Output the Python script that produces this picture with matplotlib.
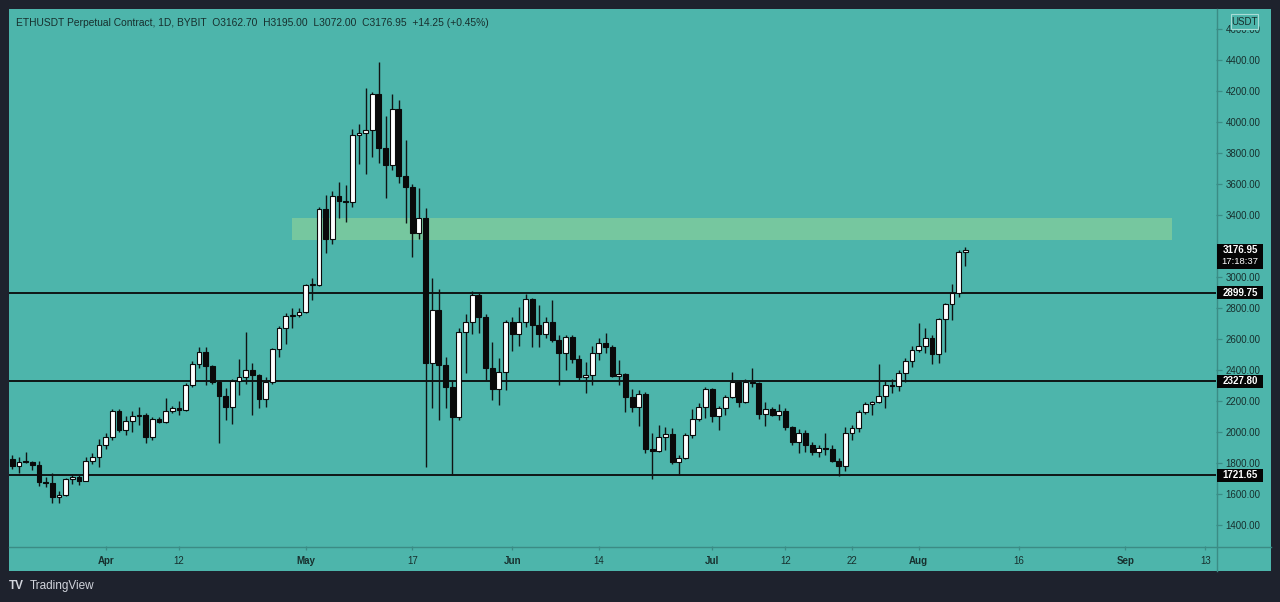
import matplotlib
matplotlib.use('Agg')
import matplotlib.pyplot as plt
import matplotlib.dates as mdates
from matplotlib.patches import Rectangle
from matplotlib.lines import Line2D
import pandas as pd
import numpy as np

# ---------------- data (daily ETHUSDT, from 2021-03-18) ----------------
start_date = '2021-03-18'
opens = [1824, 1781, 1809, 1806, 1785, 1680, 1669, 1579, 1592, 1699,
         1712, 1686, 1815, 1841, 1916, 1966, 2138, 2013, 2073, 2103,
         2110, 1966, 2082, 2067, 2133, 2153, 2142, 2301, 2437, 2514,
         2426, 2320, 2234, 2159, 2329, 2357, 2400, 2366, 2215, 2320,
         2533, 2669, 2748, 2758, 2776, 2946, 2950, 3436, 3243, 3525,
         3492, 3482, 3916, 3931, 3951, 4178, 3830, 3723, 4082, 3654,
         3583, 3286, 3379, 2443, 2790, 2432, 2292, 2099, 2647, 2707,
         2884, 2744, 2411, 2275, 2389, 2707, 2632, 2707, 2856, 2690,
         2630, 2712, 2593, 2507, 2611, 2469, 2353, 2370, 2507, 2576,
         2546, 2363, 2372, 2228, 2159, 2243, 1888, 1880, 1966, 1987,
         1809, 1830, 1979, 2084, 2163, 2275, 2105, 2153, 2224, 2320,
         2196, 2320, 2314, 2116, 2146, 2110, 2138, 2030, 1938, 1991,
         1916, 1873, 1899, 1893, 1815, 1781, 1996, 2024, 2127, 2178,
         2191, 2232, 2303, 2299, 2383, 2460, 2529, 2555, 2609, 2503,
         2727, 2826, 2895, 3162.70]
highs = [1851, 1841, 1869, 1815, 1812, 1712, 1738, 1617, 1701, 1729,
         1725, 1841, 1862, 1953, 1992, 2146, 2146, 2103, 2133, 2159,
         2121, 2095, 2095, 2217, 2168, 2200, 2314, 2455, 2551, 2551,
         2432, 2335, 2282, 2342, 2473, 2647, 2447, 2374, 2357, 2540,
         2686, 2766, 2798, 2800, 2955, 2991, 3454, 3529, 3555, 3615,
         3594, 3955, 3985, 4217, 4192, 4385, 4041, 4178, 4142, 3884,
         3600, 3572, 3443, 2991, 2920, 2486, 2331, 2669, 2759, 2912,
         2899, 2761, 2583, 2475, 2723, 2740, 2804, 2890, 2862, 2819,
         2744, 2852, 2626, 2626, 2626, 2497, 2454, 2555, 2604, 2641,
         2561, 2465, 2378, 2275, 2271, 2260, 1996, 2045, 2034, 2024,
         1852, 1992, 2146, 2189, 2292, 2282, 2168, 2239, 2389, 2335,
         2340, 2411, 2325, 2196, 2160, 2178, 2153, 2039, 2017, 2013,
         1938, 1916, 1996, 1916, 1830, 2034, 2045, 2142, 2196, 2202,
         2439, 2335, 2340, 2400, 2475, 2555, 2701, 2669, 2626, 2733,
         2830, 2955, 3174, 3195.00]
lows = [1760, 1738, 1798, 1755, 1652, 1647, 1540, 1544, 1587, 1665,
        1660, 1684, 1794, 1772, 1888, 1948, 2002, 1981, 2002, 2045,
        1931, 1948, 2055, 2060, 2120, 2110, 2138, 2290, 2411, 2303,
        2310, 1927, 2077, 2052, 2239, 2310, 2110, 2153, 2163, 2310,
        2486, 2568, 2669, 2740, 2766, 2852, 2945, 3155, 3211, 3378,
        3357, 3454, 3727, 3662, 3776, 3733, 3508, 3690, 3604, 3346,
        3132, 3245, 1776, 2153, 2080, 2153, 1723, 2078, 2383, 2632,
        2636, 2335, 2206, 2174, 2271, 2525, 2555, 2680, 2551, 2551,
        2604, 2583, 2303, 2400, 2443, 2335, 2254, 2303, 2464, 2512,
        2353, 2303, 2131, 2131, 2039, 1867, 1695, 1873, 1884, 1794,
        1723, 1824, 1959, 2073, 2088, 2067, 2013, 2110, 2217, 2159,
        2185, 2293, 2082, 2039, 2100, 2075, 2013, 1916, 1867, 1873,
        1852, 1841, 1852, 1809, 1716, 1750, 1948, 2002, 2116, 2110,
        2185, 2153, 2250, 2267, 2320, 2421, 2518, 2508, 2439, 2447,
        2518, 2723, 2873, 3072.00]
closes = [1781, 1809, 1806, 1785, 1680, 1669, 1579, 1592, 1699, 1712,
          1686, 1815, 1841, 1916, 1966, 2138, 2013, 2073, 2103, 2110,
          1966, 2082, 2067, 2133, 2153, 2142, 2301, 2437, 2514, 2426,
          2320, 2234, 2159, 2329, 2355, 2400, 2366, 2215, 2320, 2533,
          2669, 2748, 2758, 2776, 2946, 2950, 3436, 3243, 3525, 3492,
          3482, 3916, 3931, 3951, 4178, 3830, 3723, 4082, 3654, 3583,
          3286, 3379, 2443, 2790, 2432, 2292, 2099, 2647, 2707, 2884,
          2744, 2411, 2275, 2389, 2707, 2632, 2707, 2856, 2690, 2630,
          2712, 2593, 2507, 2611, 2469, 2353, 2370, 2507, 2576, 2546,
          2363, 2372, 2228, 2159, 2243, 1888, 1880, 1966, 1987, 1809,
          1830, 1979, 2084, 2163, 2275, 2105, 2153, 2224, 2320, 2196,
          2320, 2314, 2116, 2146, 2110, 2138, 2030, 1938, 1991, 1916,
          1873, 1899, 1893, 1815, 1781, 1996, 2024, 2127, 2178, 2191,
          2232, 2303, 2299, 2383, 2460, 2529, 2555, 2609, 2503, 2727,
          2826, 2895, 3163, 3176.95]

levels = [2899.75, 2327.80, 1721.65]
level_labels = ['2899.75', '2327.80', '1721.65']
zone_low, zone_high = 3240, 3380
zone_start, zone_end = '2021-04-29', '2021-09-08'
last_price_label = '3176.95'
countdown_label = '17:18:37'

xtick_dates = ['2021-04-01', '2021-04-12', '2021-05-01', '2021-05-17', '2021-06-01',
               '2021-06-14', '2021-07-01', '2021-07-12', '2021-07-22', '2021-08-01',
               '2021-08-16', '2021-09-01', '2021-09-13']
xtick_labels = ['Apr', '12', 'May', '17', 'Jun', '14', 'Jul', '12', '22', 'Aug', '16', 'Sep', '13']
ytick_values = [1400, 1600, 1800, 2000, 2200, 2400, 2600, 2800, 3000,
                3400, 3600, 3800, 4000, 4200, 4400, 4600]
title = ('ETHUSDT Perpetual Contract, 1D, BYBIT  O3162.70  H3195.00  '
         'L3072.00  C3176.95  +14.25 (+0.45%)')

# ---------------- style ----------------
plt.rcParams['font.family'] = ['Liberation Sans', 'DejaVu Sans']
FRAME = '#1e222d'
TEAL = '#4db5ab'
AXC = '#3b8c85'
TXT = '#17302e'
W, H = 1280, 602

fig = plt.figure(figsize=(W / 100, H / 100), dpi=100, facecolor=FRAME)

def fx(px):
    return px / W

def fy(py):
    return 1 - py / H

# teal panel (behind everything)
fig.patches.append(Rectangle((fx(9), fy(571)), fx(1271) - fx(9), fy(9) - fy(571),
                             transform=fig.transFigure, facecolor=TEAL, edgecolor='none', zorder=-10))

ax = fig.add_axes([fx(9), fy(546), fx(1216) - fx(9), fy(9) - fy(546)])
ax.set_zorder(1)
ax.set_facecolor('none')
for s in ax.spines.values():
    s.set_visible(False)

dates = pd.date_range(start_date, periods=len(closes), freq='D')
x = mdates.date2num(dates)
o = np.array(opens, float)
h = np.array(highs, float)
l = np.array(lows, float)
c = np.array(closes, float)

x0 = x[0] - 0.5
ax.set_xlim(x0, x0 + 181.1)
ax.set_ylim(1264.5, 4729)

# zone
zs, ze = mdates.date2num(pd.Timestamp(zone_start)), mdates.date2num(pd.Timestamp(zone_end))
ax.add_patch(Rectangle((zs, zone_low), ze - zs, zone_high - zone_low,
                       facecolor='#76c79f', edgecolor='none', zorder=1))

# levels
for lv in levels:
    ax.axhline(lv, color='#0a0a0a', lw=1.3, zorder=2)

# candles
up = c >= o
ax.vlines(x, l, h, color='#101414', lw=1.0, zorder=3)
bottoms = np.minimum(o, c)
heights = np.maximum(np.abs(c - o), 6)
ax.bar(x[up], heights[up], bottom=bottoms[up], width=0.72, color='white',
       edgecolor='#0a0a0a', linewidth=0.8, zorder=4)
ax.bar(x[~up], heights[~up], bottom=bottoms[~up], width=0.72, color='#0a0a0a',
       edgecolor='#0a0a0a', linewidth=0.8, zorder=4)

# axes ticks
ax.yaxis.tick_right()
ax.set_yticks(ytick_values)
ax.set_yticklabels([f'{v:.2f}' for v in ytick_values])
ax.tick_params(axis='y', length=4, width=0.9, color=AXC, pad=3, labelsize=7, labelcolor=TXT)
ax.set_xticks(mdates.date2num(pd.to_datetime(xtick_dates)))
ax.set_xticklabels(xtick_labels)
ax.tick_params(axis='x', length=3, width=0.9, color=AXC, pad=4, labelsize=7, labelcolor=TXT)
for lab in ax.get_xticklabels():
    if lab.get_text() in ('Apr', 'May', 'Jun', 'Jul', 'Aug', 'Sep'):
        lab.set_fontweight('bold')

# separator lines
fig.lines.append(Line2D([fx(1216.5), fx(1216.5)], [fy(571), fy(9)], transform=fig.transFigure,
                        color=AXC, lw=1.0, zorder=-5))
fig.lines.append(Line2D([fx(9), fx(1271)], [fy(546.5), fy(546.5)], transform=fig.transFigure,
                        color=AXC, lw=1.0, zorder=-5))

# price tags on right axis
ppu = (fy(9) - fy(546)) * H / (4729 - 1264.5)  # pixels per price unit

def tag(yc, lines, height_px, bold_first=True):
    trans = ax.get_yaxis_transform()
    axw = (fx(1216) - fx(9)) * W
    xl = 1 + 0.7 / axw
    wid = 46.5 / axw
    hh = height_px / ppu
    r = Rectangle((xl, yc - hh / 2), wid, hh, transform=trans, facecolor='#050505',
                  edgecolor='none', clip_on=False, zorder=10)
    ax.add_patch(r)
    n = len(lines)
    for i, t in enumerate(lines):
        off = (i - (n - 1) / 2) * 11.5 / ppu
        ax.text(xl + wid / 2, yc - off, t, transform=trans, ha='center', va='center',
                color='white', fontsize=7 if i == 0 else 6.8,
                fontweight='bold' if (i == 0 and bold_first) else 'normal',
                clip_on=False, zorder=11)

for lv, lab in zip(levels, level_labels):
    tag(lv, [lab], 13)
# last price tag (two lines), box extends below the last close
tag(c[-1] - 6.5 / ppu, [last_price_label, countdown_label], 25)

# USDT box
fig.patches.append(Rectangle((fx(1230.5), fy(29)), fx(1257.5) - fx(1230.5), fy(14.5) - fy(29),
                             transform=fig.transFigure, facecolor=TEAL, edgecolor='#a9dcd6',
                             lw=0.8, zorder=20))
fig.text(fx(1244), fy(21.8), 'USDT', ha='center', va='center', fontsize=7, color=TXT, zorder=21)

# title
fig.text(fx(16), fy(22.5), title, ha='left', va='center', fontsize=7.4, color=TXT)

# TradingView logo text
fig.text(fx(9), fy(586), 'TV', ha='left', va='center', fontsize=8.5, fontweight='heavy', color='#d1d4dc')
fig.text(fx(30), fy(586), 'TradingView', ha='left', va='center', fontsize=8.5, color='#d1d4dc')

fig.savefig('out.png', dpi=100, facecolor=FRAME)
